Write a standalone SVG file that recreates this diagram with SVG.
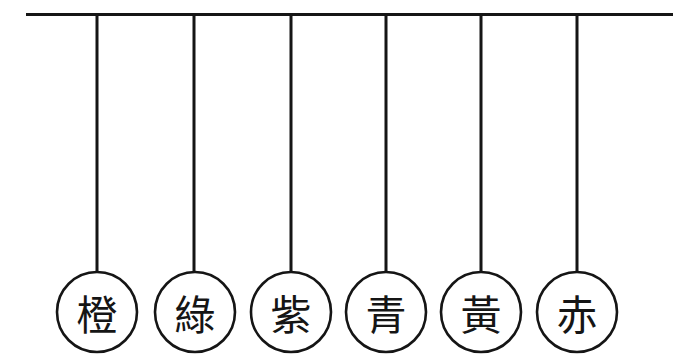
<svg xmlns="http://www.w3.org/2000/svg" width="687" height="360" viewBox="0 0 687 360">
<style>
.bar{stroke:#151515;stroke-width:3;fill:none;stroke-linecap:butt}
.rope{stroke:#151515;stroke-width:3;fill:none}
.ring{stroke:#151515;stroke-width:2.6;fill:#fff}
.lbl{font-family:"Noto Sans CJK TC","Noto Sans CJK SC",sans-serif;font-size:41px;fill:#151515;text-anchor:middle;dominant-baseline:central}
</style>
<rect width="687" height="360" fill="#fff"/>
<g id="connectors">
<line class="bar" x1="26" y1="14.5" x2="673" y2="14.5"/>
<line class="rope" x1="97" y1="14" x2="97" y2="272"/>
<line class="rope" x1="194" y1="14" x2="194" y2="272"/>
<line class="rope" x1="291" y1="14" x2="291" y2="272"/>
<line class="rope" x1="386" y1="14" x2="386" y2="272"/>
<line class="rope" x1="481" y1="14" x2="481" y2="272"/>
<line class="rope" x1="577" y1="14" x2="577" y2="272"/>
</g>
<g id="n1"><circle class="ring" cx="97" cy="312" r="40"/><text class="lbl" x="97" y="312">橙</text></g>
<g id="n2"><circle class="ring" cx="195" cy="312" r="40"/><text class="lbl" x="195" y="312">綠</text></g>
<g id="n3"><circle class="ring" cx="291" cy="312" r="40"/><text class="lbl" x="291" y="312">紫</text></g>
<g id="n4"><circle class="ring" cx="386" cy="312" r="40"/><text class="lbl" x="386" y="312">青</text></g>
<g id="n5"><circle class="ring" cx="481" cy="312" r="40"/><text class="lbl" x="481" y="312">黃</text></g>
<g id="n6"><circle class="ring" cx="577" cy="312" r="40"/><text class="lbl" x="577" y="312">赤</text></g>
</svg>
